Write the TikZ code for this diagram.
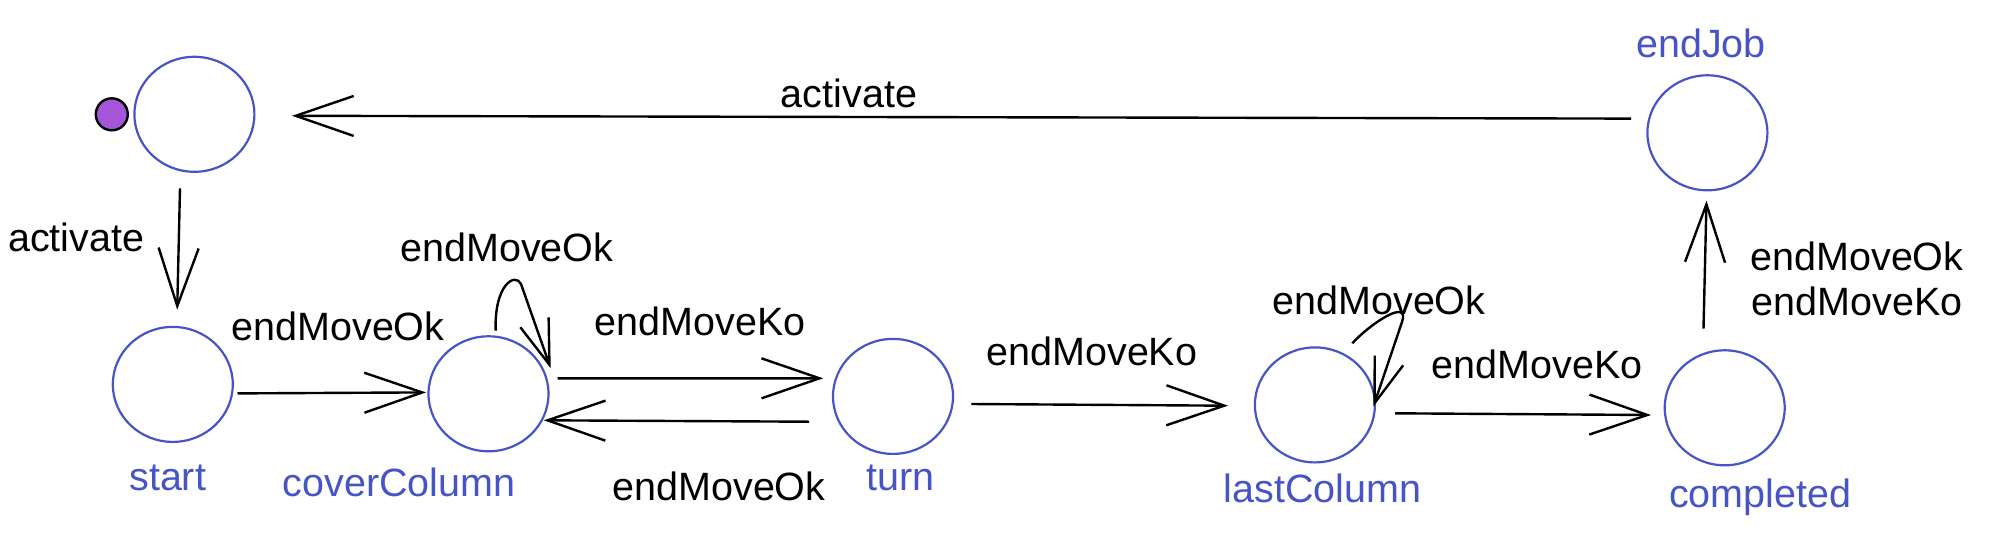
\documentclass[tikz,border=0pt]{standalone}
\usepackage{fontspec}
\setmainfont{Liberation Sans}
\usetikzlibrary{arrows.meta,shapes.geometric,calc}
\definecolor{stblue}{RGB}{70,84,200}
\definecolor{dotpurple}{RGB}{165,85,215}
\begin{document}
\begin{tikzpicture}[x=0.5pt,y=-0.5pt,
  every node/.style={font=\fontsize{19.75}{22.65}\selectfont},
  state/.style={draw=stblue, line width=1.1pt, ellipse, minimum width=60pt, minimum height=57.5pt, inner sep=0pt},
  sname/.style={text=stblue, inner sep=0pt, text height=14.2pt, text depth=0pt},
  lbl/.style={inner sep=0pt, text height=14.2pt, text depth=0pt},
  arr/.style={line width=1.2pt, -{Straight Barb[length=29pt,width=20pt]}},
  looparr/.style={line width=1.2pt, -{Straight Barb[length=22.5pt,width=15pt]}}
]
\useasboundingbox (0,0) rectangle (1992,547);
% states
\node[state] (A) at (194.4,114.3) {};
\node[draw=black, line width=1.2pt, fill=dotpurple, circle, minimum size=16pt, inner sep=0pt] (init) at (111.8,114.3) {};
\node[state] (start) at (172.8,384.4) {};
\node[state] (cover) at (488.5,393.8) {};
\node[state] (turn) at (893,396.4) {};
\node[state] (last) at (1314.9,404.9) {};
\node[state] (completed) at (1724.7,407.8) {};
\node[state] (endJob) at (1707.4,132.8) {};
% state names
\node[sname] (startN) at (167.7,476.4) {start};
\node[sname] (coverN) at (399,482.7) {coverColumn};
\node[sname] (turnN) at (900.7,476.4) {turn};
\node[sname] (lastN) at (1322.5,488.3) {lastColumn};
\node[sname] (completedN) at (1760.3,493) {completed};
\node[sname] (endJobN) at (1701,43.6) {endJob};
% transition labels
\node[lbl] (l1) at (849,93.3) {activate};
\node[lbl] (l2) at (76.2,237.6) {activate};
\node[lbl] (l3) at (338,326.2) {endMoveOk};
\node[lbl] (l4) at (506.9,247.7) {endMoveOk};
\node[lbl] (l5) at (700,321.4) {endMoveKo};
\node[lbl] (l6) at (719,486.6) {endMoveOk};
\node[lbl] (l7) at (1091.9,351.6) {endMoveKo};
\node[lbl] (l8) at (1379,300) {endMoveOk};
\node[lbl] (l9) at (1537,364.6) {endMoveKo};
\node[align=center, inner sep=0pt] (l10) at (1857,279) {endMoveOk\\endMoveKo};
% transitions
\draw[arr] ($(endJob.center)+(-76.4,-14.2)$) -- ($(A.center)+(97.6,1.5)$);
\draw[arr] ($(A.center)+(-14.4,74)$) -- ($(start.center)+(4.4,-74.7)$);
\draw[arr] ($(start.center)+(64.7,9)$) -- ($(cover.center)+(-62.5,-1.4)$);
\draw[looparr] ($(cover.center)+(7.2,-63.1)$) .. controls ($(cover.center)+(5.5,-108.8)$) and ($(cover.center)+(26.5,-121.8)$) .. ($(cover.center)+(32.5,-109.8)$) -- ($(cover.center)+(62.2,-25.5)$);
\draw[arr] ($(cover.center)+(69.2,-15.4)$) -- ($(turn.center)+(-69.8,-18.1)$);
\draw[arr] ($(turn.center)+(-84,25.3)$) -- ($(cover.center)+(55.25,26.5)$);
\draw[arr] ($(turn.center)+(78.4,7.6)$) -- ($(last.center)+(-86.9,0.8)$);
\draw[looparr] ($(last.center)+(37.4,-61.6)$) .. controls ($(last.center)+(57.1,-82.9)$) and ($(last.center)+(95.1,-106.9)$) .. ($(last.center)+(87.1,-82.9)$) -- ($(last.center)+(58.4,1.8)$);
\draw[arr] ($(last.center)+(80.1,8.4)$) -- ($(completed.center)+(-73.7,7.2)$);
\draw[arr] ($(completed.center)+(-21.2,-79.2)$) -- ($(endJob.center)+(-0.9,67.8)$);
\end{tikzpicture}
\end{document}
